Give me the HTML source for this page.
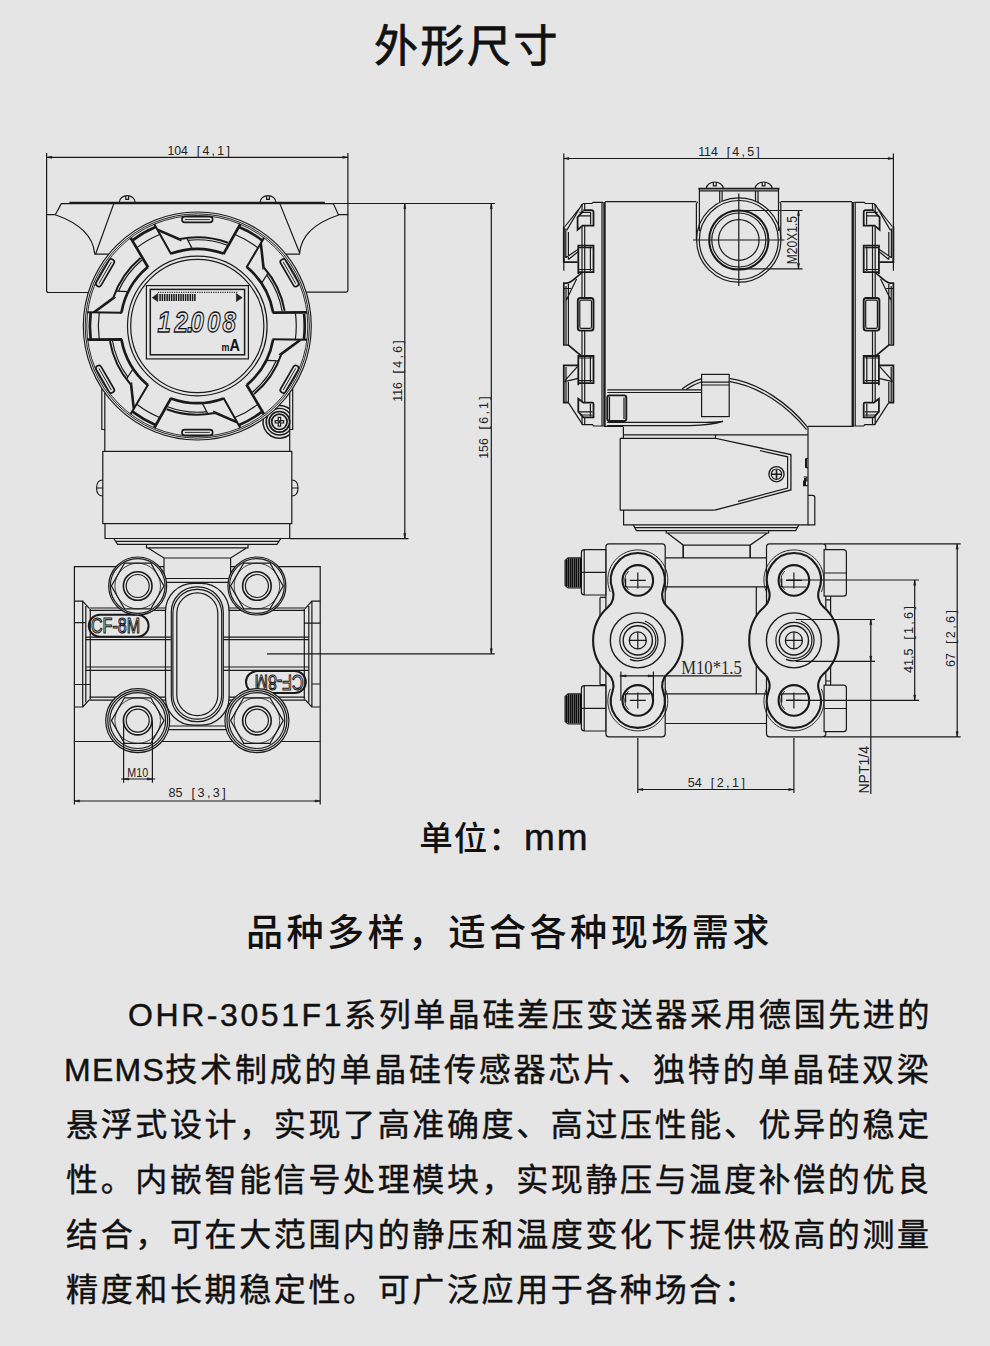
<!DOCTYPE html>
<html lang="zh-CN">
<head>
<meta charset="utf-8">
<title>外形尺寸</title>
<style>
html,body{margin:0;padding:0;}
body{width:990px;height:1346px;background:#e6e5e6;position:relative;overflow:hidden;
  font-family:"Liberation Sans","Noto Sans CJK SC",sans-serif;color:#111;}
.abs{position:absolute;white-space:nowrap;}
#title{left:0;width:934px;top:15px;text-align:center;font-size:44px;line-height:64px;letter-spacing:2.5px;font-weight:400;-webkit-text-stroke:0.8px #111;}
#unit{left:419.2px;top:815.1px;font-size:33.5px;line-height:46px;letter-spacing:1px;font-weight:500;}
#unit span{font-size:37px;letter-spacing:2.0px;font-weight:400;margin-left:1.2px;-webkit-text-stroke:0.5px #111;}
#sub{left:245.9px;top:907.3px;font-size:37.1px;line-height:52px;letter-spacing:3.45px;font-weight:500;}
#para{position:absolute;left:66px;top:988px;width:900px;font-size:32px;line-height:55px;letter-spacing:2.63px;font-weight:400;-webkit-text-stroke:0.45px #111;}
#para div{white-space:nowrap;height:55px;}
#draw{position:absolute;left:0;top:0;width:990px;height:1346px;}
#draw text{fill:#222;stroke:none;font-family:"Liberation Sans",sans-serif;font-size:12px;}
</style>
</head>
<body>
<div id="title" class="abs">外形尺寸</div>
<svg id="draw" viewBox="0 0 990 1346" width="990" height="1346" fill="none" stroke="#1a1a1a" stroke-width="1.2">
<g id="left">
<path d="M88.3,292.5 H48.6 Q46.6,292.5 46.6,290.5 V214.7 H55.3 L61.3,203.6 H333.3 L338.4,214.7 H347.9 V290 Q347.9,292.2 345.9,292.2 H306.3"/>
<path d="M55.3,214.7 C76,222 93,234 94.6,253.4 M94.2,254.1 H108.8 M113.8,203.6 L95.7,253.8"/>
<path d="M338.6,215 C318,222 301,234 299.6,253.4 M300,254.1 H285.8 M279.8,203.6 L300,253.8"/>
<path d="M69.4,202.6 H324.8" stroke-width="1.9"/>
<path d="M119.2,202.6 C119.2,198.5 123.2,195.6 127.2,195.6 C131.2,195.6 135.2,198.5 135.2,202.6 M125.8,195.8 V199.4 H128.6 V195.8"/>
<path d="M260,202.6 C260,198.5 264,195.6 268,195.6 C272,195.6 276,198.5 276,202.6 M266.6,195.8 V199.4 H269.4 V195.8"/>
<path d="M104.8,392.6 V451.4 M289.7,392.6 V451.4 M101.8,389 V429.5 H104.8 M292.7,389 V429.5 H289.7"/>
<rect x="102.8" y="451.4" width="189" height="72.2"/>
<path d="M105,523.6 V538.5 H289.7 V523.6 M113.8,538.5 L117.6,544.4 H277 L280.8,538.5 M115.6,541.4 H279"/>
<path d="M146.5,544.4 V547.9 H248 V544.4 M148,547.9 L164,558 H230.6 L246.5,547.9 M164,558 V578.5 M230.6,558 V578.5 M166,578.5 H228.6 M166,582.3 H228.6"/>
<path d="M102.8,480 C98,480 96.6,484 96.6,488 C96.6,492 98,496 102.8,496 M96.6,488 H102.8"/>
<path d="M291.8,480 C296.6,480 298,484 298,488 C298,492 296.6,496 291.8,496 M298,488 H291.8"/>
<circle cx="197.3" cy="326" r="114" fill="#e6e5e6" stroke-width="1.15"/>
<circle cx="197.3" cy="326" r="112.1" stroke-width="0.95"/>
<circle cx="197.3" cy="326" r="110.5" stroke-width="0.9"/>
<circle cx="197.3" cy="326" r="69.8" stroke-width="1.2"/>
<circle cx="197.3" cy="326" r="66.6"/>
<g transform="rotate(0 197.3 326)"><path d="M158.2,230.7 L181.4,240.9 M187.7,240.3 A86.2,86.2 0 0 1 227.2,245.2 M186.9,238.4 L192.2,248.6 M235,234.5 A99,99 0 0 1 257.8,247.7"/><path d="M154.2,224 L171.2,254.2 M156.9,229.1 L180,239.2 M179.9,239.1 A88.6,88.6 0 0 1 227.9,242.8" stroke-width="2"/><path d="M240.4,224 L223.4,254.2 M171,253.6 A77,77 0 0 1 223.6,253.6 M239.1,227 A107.5,107.5 0 0 1 262.1,240.3" stroke-width="2.7"/><rect x="182" y="216.7" width="30.6" height="5.7" rx="2.6" stroke-width="1.7"/><path d="M184.8,219.6 H209.8" stroke-width="0.9"/></g>
<g transform="rotate(60 197.3 326)"><path d="M158.2,230.7 L181.4,240.9 M187.7,240.3 A86.2,86.2 0 0 1 227.2,245.2 M186.9,238.4 L192.2,248.6 M235,234.5 A99,99 0 0 1 257.8,247.7"/><path d="M154.2,224 L171.2,254.2 M156.9,229.1 L180,239.2 M179.9,239.1 A88.6,88.6 0 0 1 227.9,242.8" stroke-width="2"/><path d="M240.4,224 L223.4,254.2 M171,253.6 A77,77 0 0 1 223.6,253.6 M239.1,227 A107.5,107.5 0 0 1 262.1,240.3" stroke-width="2.7"/><rect x="182" y="216.7" width="30.6" height="5.7" rx="2.6" stroke-width="1.7"/><path d="M184.8,219.6 H209.8" stroke-width="0.9"/></g>
<g transform="rotate(120 197.3 326)"><path d="M158.2,230.7 L181.4,240.9 M187.7,240.3 A86.2,86.2 0 0 1 227.2,245.2 M186.9,238.4 L192.2,248.6 M235,234.5 A99,99 0 0 1 257.8,247.7"/><path d="M154.2,224 L171.2,254.2 M156.9,229.1 L180,239.2 M179.9,239.1 A88.6,88.6 0 0 1 227.9,242.8" stroke-width="2"/><path d="M240.4,224 L223.4,254.2 M171,253.6 A77,77 0 0 1 223.6,253.6 M239.1,227 A107.5,107.5 0 0 1 262.1,240.3" stroke-width="2.7"/><rect x="182" y="216.7" width="30.6" height="5.7" rx="2.6" stroke-width="1.7"/><path d="M184.8,219.6 H209.8" stroke-width="0.9"/></g>
<g transform="rotate(180 197.3 326)"><path d="M158.2,230.7 L181.4,240.9 M187.7,240.3 A86.2,86.2 0 0 1 227.2,245.2 M186.9,238.4 L192.2,248.6 M235,234.5 A99,99 0 0 1 257.8,247.7"/><path d="M154.2,224 L171.2,254.2 M156.9,229.1 L180,239.2 M179.9,239.1 A88.6,88.6 0 0 1 227.9,242.8" stroke-width="2"/><path d="M240.4,224 L223.4,254.2 M171,253.6 A77,77 0 0 1 223.6,253.6 M239.1,227 A107.5,107.5 0 0 1 262.1,240.3" stroke-width="2.7"/><rect x="182" y="216.7" width="30.6" height="5.7" rx="2.6" stroke-width="1.7"/><path d="M184.8,219.6 H209.8" stroke-width="0.9"/></g>
<g transform="rotate(240 197.3 326)"><path d="M158.2,230.7 L181.4,240.9 M187.7,240.3 A86.2,86.2 0 0 1 227.2,245.2 M186.9,238.4 L192.2,248.6 M235,234.5 A99,99 0 0 1 257.8,247.7"/><path d="M154.2,224 L171.2,254.2 M156.9,229.1 L180,239.2 M179.9,239.1 A88.6,88.6 0 0 1 227.9,242.8" stroke-width="2"/><path d="M240.4,224 L223.4,254.2 M171,253.6 A77,77 0 0 1 223.6,253.6 M239.1,227 A107.5,107.5 0 0 1 262.1,240.3" stroke-width="2.7"/><rect x="182" y="216.7" width="30.6" height="5.7" rx="2.6" stroke-width="1.7"/><path d="M184.8,219.6 H209.8" stroke-width="0.9"/></g>
<g transform="rotate(300 197.3 326)"><path d="M158.2,230.7 L181.4,240.9 M187.7,240.3 A86.2,86.2 0 0 1 227.2,245.2 M186.9,238.4 L192.2,248.6 M235,234.5 A99,99 0 0 1 257.8,247.7"/><path d="M154.2,224 L171.2,254.2 M156.9,229.1 L180,239.2 M179.9,239.1 A88.6,88.6 0 0 1 227.9,242.8" stroke-width="2"/><path d="M240.4,224 L223.4,254.2 M171,253.6 A77,77 0 0 1 223.6,253.6 M239.1,227 A107.5,107.5 0 0 1 262.1,240.3" stroke-width="2.7"/><rect x="182" y="216.7" width="30.6" height="5.7" rx="2.6" stroke-width="1.7"/><path d="M184.8,219.6 H209.8" stroke-width="0.9"/></g>
</g>
<g id="left2">
<rect x="146.4" y="285.6" width="102" height="73.3"/>
<rect x="150.3" y="289.4" width="94.3" height="65.4" stroke-width="1.5"/>
<path d="M152.3,297.7 L157.8,293.6 V301.6 Z M242.2,297.7 L236.4,293.6 V301.6 Z" fill="#222" stroke-width="0.6"/>
<path d="M158,292.4 H237.5" stroke-width="1.3" stroke-dasharray="1.1 1.2"/>
<path d="M160.1,293.9 V300.9 M162.4,293.9 V300.9 M164.7,293.9 V300.9 M167.1,293.9 V300.9 M169.4,293.9 V300.9 M171.7,293.9 V300.9 M174,293.9 V300.9 M176.3,293.9 V300.9 M178.7,293.9 V300.9 M181,293.9 V300.9 M183.3,293.9 V300.9 M185.6,293.9 V300.9 M187.9,293.9 V300.9 M190.3,293.9 V300.9 M192.6,293.9 V300.9 M194.9,293.9 V300.9" stroke-width="1.5"/>
<g font-family="'Liberation Sans',sans-serif" font-style="italic" font-weight="bold">
<text transform="translate(0,332.4) scale(0.8,1)" x="196.9 218.1 233.6 238.1 258.8 278.1" y="0" style="font-size:30px;fill:none;stroke:#111;stroke-width:1.25px">12.008</text>
</g>
<text x="221.6" y="351.3" style="font-size:10.5px;font-weight:bold;fill:#111" textLength="18.4" lengthAdjust="spacingAndGlyphs">m<tspan style="font-size:17px">A</tspan></text>
<path d="M289.7,430.2 A13.3,13.3 0 0 1 267.6,415.7 M275.2,409.2 A13.3,13.3 0 0 1 289.7,413.4 M289.7,434.6 A16.4,16.4 0 0 1 263.2,419 M279.1,405.4 A16.4,16.4 0 0 1 289.7,409" stroke-width="1.5"/>
<circle cx="279.4" cy="421.8" r="10.3" fill="#e6e5e6" stroke-width="1.7"/>
<circle cx="279.4" cy="421.8" r="7.7" stroke-width="1.7"/>
<path d="M275.2,420.6 h3 v-3.2 h2.4 v3.2 h3 v2.4 h-3 v3.2 h-2.4 v-3.2 h-3 Z" stroke-width="1.2"/>
<circle cx="279.4" cy="421.8" r="1.5" fill="#222" stroke="none"/>
<path d="M164,566.6 H74.4 V741.5 H320.2 V566.6 H230.6"/>
<path d="M74.4,601.2 H82.7 V707 H74.4 M82.7,601.2 L89.5,608.6 M82.7,707 L89.5,699.6 M85.8,606 V702.5 M90.3,609 V699.5 M74.4,622.7 H85.8 M74.4,684.5 H90.3"/>
<path d="M320.2,601.2 H311.9 V707 H320.2 M311.9,601.2 L305.1,608.6 M311.9,707 L305.1,699.6 M308.8,606 V702.5 M304.3,609 V699.5 M320.2,623.1 H303.8 M320.2,684 H311.9"/>
<path d="M89.5,608 H166 M89.5,610.3 H166 M305.1,608 H228.6 M305.1,610.3 H228.6"/>
<path d="M85.8,637.2 H170.8 M85.8,639.6 H170.8 M308.8,637.2 H223.8 M308.8,639.6 H223.8"/>
<path d="M85.8,667 H170.8 M85.8,670.3 H170.8 M308.8,667 H223.8 M308.8,670.3 H223.8"/>
<path d="M89.5,697.1 H166 M89.5,700.2 H166 M305.1,697.1 H228.6 M305.1,700.2 H228.6"/>
<path d="M168,726 H226.6 M168,729.6 H226.6"/>
<rect x="165.5" y="583.3" width="63.6" height="141.9" rx="28"/>
<rect x="171.3" y="586.8" width="52" height="134.9" rx="25.4"/>
<rect x="172.9" y="589.4" width="48.8" height="129.7" rx="24"/>
<rect x="176.8" y="592.9" width="41" height="122.7" rx="20.5"/>
<g><rect x="88.8" y="614.8" width="59.8" height="22" rx="11" stroke-width="2"/><text x="91" y="633.4" textLength="49" lengthAdjust="spacingAndGlyphs" style="font-size:22.5px;fill:none;stroke:#111;stroke-width:1.15px">CF-8M</text></g>
<g transform="rotate(180 197.3 653.95)"><rect x="88.8" y="614.8" width="59.8" height="22" rx="11" stroke-width="2"/><text x="91" y="633.4" textLength="49" lengthAdjust="spacingAndGlyphs" style="font-size:22.5px;fill:none;stroke:#111;stroke-width:1.15px">CF-8M</text></g>
<circle cx="137.7" cy="586" r="29" fill="#e6e5e6"/>
<circle cx="137.7" cy="586" r="27.4"/>
<polygon points="164,586 150.8,608.8 124.5,608.8 111.4,586 124.5,563.2 150.8,563.2"/>
<circle cx="137.7" cy="586" r="22.8" stroke-width="0.8"/>
<circle cx="137.7" cy="586" r="14.3" stroke-width="1.6"/>
<circle cx="137.7" cy="586" r="11.5"/>
<circle cx="137.7" cy="720.6" r="32" fill="#e6e5e6"/>
<circle cx="137.7" cy="720.6" r="30"/>
<circle cx="137.7" cy="720.6" r="27.9"/>
<polygon points="164,720.6 150.8,743.4 124.5,743.4 111.4,720.6 124.5,697.8 150.8,697.8"/>
<circle cx="137.7" cy="720.6" r="22.8" stroke-width="0.8"/>
<circle cx="137.7" cy="720.6" r="14.3" stroke-width="1.6"/>
<circle cx="137.7" cy="720.6" r="11.5"/>
<circle cx="256.9" cy="586" r="29" fill="#e6e5e6"/>
<circle cx="256.9" cy="586" r="27.4"/>
<polygon points="283.2,586 270,608.8 243.7,608.8 230.6,586 243.7,563.2 270,563.2"/>
<circle cx="256.9" cy="586" r="22.8" stroke-width="0.8"/>
<circle cx="256.9" cy="586" r="14.3" stroke-width="1.6"/>
<circle cx="256.9" cy="586" r="11.5"/>
<circle cx="256.9" cy="720.6" r="32" fill="#e6e5e6"/>
<circle cx="256.9" cy="720.6" r="30"/>
<circle cx="256.9" cy="720.6" r="27.9"/>
<polygon points="283.2,720.6 270,743.4 243.7,743.4 230.6,720.6 243.7,697.8 270,697.8"/>
<circle cx="256.9" cy="720.6" r="22.8" stroke-width="0.8"/>
<circle cx="256.9" cy="720.6" r="14.3" stroke-width="1.6"/>
<circle cx="256.9" cy="720.6" r="11.5"/>
</g>
<g id="dimsL">
<path d="M46.6,153 V214.7 M347.9,153 V214.7 M46.6,157.3 H347.9 M333,203.5 H495 M404.8,203.5 V538.6 M289.7,538.6 H408.5 M491.3,203.5 V653.9 M267,653.9 H494.8 M123.6,720.6 V782.8 M152.4,720.6 V782.8 M121,779 H155.2 M74.4,741.5 V804.5 M320.2,741.5 V804.5 M74.4,801 H320.2"/>
<path d="M46.6,157.3 l5.2,-1 v2 Z M347.9,157.3 l-5.2,-1 v2 Z M404.8,203.5 l-1,5.2 h2 Z M404.8,538.6 l-1,-5.2 h2 Z M491.3,203.5 l-1,5.2 h2 Z M491.3,653.9 l-1,-5.2 h2 Z M123.6,779 l5.2,-1 v2 Z M152.4,779 l-5.2,-1 v2 Z M74.4,801 l5.2,-1 v2 Z M320.2,801 l-5.2,-1 v2 Z" fill="#222" stroke-width="0.6"/>
<text x="167.4" y="154.6" style="font-size:12.3px">104 <tspan dx="5.4" style="letter-spacing:2.3px">[4,1]</tspan></text>
<text transform="translate(402.2,401.8) rotate(-90)" style="font-size:12.3px">116 <tspan dx="5.4" style="letter-spacing:2.3px">[4,6]</tspan></text>
<text transform="translate(488.2,458.8) rotate(-90)" style="font-size:12.3px">156 <tspan dx="5.4" style="letter-spacing:2.3px">[6,1]</tspan></text>
<text x="168.6" y="797.2" style="font-size:12.6px">85 <tspan dx="5.5" style="letter-spacing:2.4px">[3,3]</tspan></text>
<text x="127.3" y="777.3" style="font-size:13px" textLength="20.8" lengthAdjust="spacingAndGlyphs">M10</text>
</g>
<g id="right">
<path d="M605.2,201.7 H696.4 M780.8,201.7 H852 M604.5,202 V426.7 M852.7,202 V426.7" />
<path d="M604.5,202 V426.7 M852.7,202 V426.7" stroke-width="2.3"/>
<path d="M602,202.4 V426 M855.2,202.4 V426"/>
<path d="M604.5,426.4 H623.2 M808,426.4 H852.7"/>
<g id="capL"><path d="M603,202.4 H593.2 L591.8,203.5 H583.3 L564.9,226.5 M582,204.3 L566.7,230.4"/>
<path d="M603,426 H593.5 L592.5,424.6 H582.6 L568.4,402.7"/>
<path d="M582,204 V424.6 M584.7,204 V424.6"/>
<path d="M563.8,226.5 V262.2 H577.6" stroke-width="1.8"/>
<path d="M565.8,228.5 V258 M568.4,232 V259.5 M565.6,257.8 L583,246 M568.4,259.5 L579,251"/>
<path d="M581.9,272.6 C576,277 572,282.5 567,283.2 H563.8 V345 H568.4 L581.9,356.4" stroke-width="1.7"/>
<path d="M568.4,284 V345 M566,286 V344 M576.6,279 L565.6,301.5 M563.8,288.5 H571"/>
<path d="M578.3,365.3 H563.8 V402.5 H568.4" stroke-width="1.8"/>
<path d="M566,367 V401.5 M568.4,382 V402.5 M577.6,366.3 L564.9,380.6 M564.6,381.6 L578.3,378.3"/>
<path d="M583.3,210.2 H591.5 Q593.5,210.2 593.5,212.2 V225.6 H582.6 L577.6,229.9 V217.2 L583.3,211.2" fill="#e6e5e6" stroke-width="1.8"/>
<path d="M579.5,212.4 H591 M579,215.8 H591 M590.6,211.7 V224.6"/>
<path d="M578.3,274.1 V245.6 H593.5 V272.1 H578.3" fill="#e6e5e6" stroke-width="1.8"/>
<path d="M582,245.6 V272.1 M584.7,245.6 V272.1 M590.4,246.6 V271.1 M579,247.6 H592.5 M579,269.5 H592.5"/>
<rect x="577.8" y="298" width="15.7" height="32.6" rx="2.6" fill="#e6e5e6" stroke-width="1.9"/>
<rect x="579.8" y="300.2" width="11.7" height="28.2" rx="1.5"/>
<path d="M578.3,385.2 V356 H593.5 V383.2 H578.3" fill="#e6e5e6" stroke-width="1.8"/>
<path d="M582,356 V383.2 M584.7,356 V383.2 M590.4,357 V382.2 M579,358 H592.5 M579,380.6 H592.5"/>
<path d="M578.3,398.8 L583.3,402.7 H592.5 Q593.5,402.7 593.5,404.2 V417.4 H583.3 L578.3,411.7 Z" fill="#e6e5e6" stroke-width="1.8"/>
<path d="M579,411.8 H592.5 M580.5,415 H592.5 M590.4,403.8 V416.4"/></g>
<g transform="translate(1457.2,0) scale(-1,1)"><path d="M603,202.4 H593.2 L591.8,203.5 H583.3 L564.9,226.5 M582,204.3 L566.7,230.4"/>
<path d="M603,426 H593.5 L592.5,424.6 H582.6 L568.4,402.7"/>
<path d="M582,204 V424.6 M584.7,204 V424.6"/>
<path d="M563.8,226.5 V262.2 H577.6" stroke-width="1.8"/>
<path d="M565.8,228.5 V258 M568.4,232 V259.5 M565.6,257.8 L583,246 M568.4,259.5 L579,251"/>
<path d="M581.9,272.6 C576,277 572,282.5 567,283.2 H563.8 V345 H568.4 L581.9,356.4" stroke-width="1.7"/>
<path d="M568.4,284 V345 M566,286 V344 M576.6,279 L565.6,301.5 M563.8,288.5 H571"/>
<path d="M578.3,365.3 H563.8 V402.5 H568.4" stroke-width="1.8"/>
<path d="M566,367 V401.5 M568.4,382 V402.5 M577.6,366.3 L564.9,380.6 M564.6,381.6 L578.3,378.3"/>
<path d="M583.3,210.2 H591.5 Q593.5,210.2 593.5,212.2 V225.6 H582.6 L577.6,229.9 V217.2 L583.3,211.2" fill="#e6e5e6" stroke-width="1.8"/>
<path d="M579.5,212.4 H591 M579,215.8 H591 M590.6,211.7 V224.6"/>
<path d="M578.3,274.1 V245.6 H593.5 V272.1 H578.3" fill="#e6e5e6" stroke-width="1.8"/>
<path d="M582,245.6 V272.1 M584.7,245.6 V272.1 M590.4,246.6 V271.1 M579,247.6 H592.5 M579,269.5 H592.5"/>
<rect x="577.8" y="298" width="15.7" height="32.6" rx="2.6" fill="#e6e5e6" stroke-width="1.9"/>
<rect x="579.8" y="300.2" width="11.7" height="28.2" rx="1.5"/>
<path d="M578.3,385.2 V356 H593.5 V383.2 H578.3" fill="#e6e5e6" stroke-width="1.8"/>
<path d="M582,356 V383.2 M584.7,356 V383.2 M590.4,357 V382.2 M579,358 H592.5 M579,380.6 H592.5"/>
<path d="M578.3,398.8 L583.3,402.7 H592.5 Q593.5,402.7 593.5,404.2 V417.4 H583.3 L578.3,411.7 Z" fill="#e6e5e6" stroke-width="1.8"/>
<path d="M579,411.8 H592.5 M580.5,415 H592.5 M590.4,403.8 V416.4"/></g>
<path d="M696.4,240 V203.8 L697.6,201.7 M780.8,240 V203.8 L779.8,201.7"/>
<path d="M699.4,231 V188.5 H778.5 V231" />
<path d="M698.4,188.6 H779.4" stroke-width="1.6"/>
<path d="M699.4,190.9 H778.5 M719.7,190.9 V202.6 M722.1,190.9 V201 M755.5,190.9 V201 M758,190.9 V202.6"/>
<circle cx="738.8" cy="240" r="42.2"/>
<circle cx="738.8" cy="240" r="39.5"/>
<circle cx="738.8" cy="240" r="29.6" stroke-width="2"/>
<circle cx="738.8" cy="240" r="27"/>
<circle cx="738.8" cy="240" r="20.3"/>
<path d="M693,240 H784.5 M738.8,193.5 V286"/>
<path d="M706.4,188.4 C706.4,184.6 710.8,182 714.8,182 C718.8,182 723.2,184.6 723.2,188.4 M713.4,182.2 V185.8 H716.2 V182.2"/>
<path d="M755.2,188.4 C755.2,184.6 759.6,182 763.6,182 C767.6,182 772,184.6 772,188.4 M762.2,182.2 V185.8 H765 V182.2"/>
<path d="M607.3,389.8 H701.6 M607.3,392.5 H701.6 M607.3,422.3 H700 M607.3,425.6 H690 C705,425.2 716,423.6 723,421.4 C716,422.2 708,422.6 700,422.3"/>
<rect x="607.3" y="395.4" width="19" height="25.6" rx="2.2" stroke-width="1.9"/>
<path d="M609.5,396.5 V420 M624,397.5 V419"/>
<path d="M682,388.9 C690,383 697,380 701.6,378.6 M729.2,378.4 C760,383 789,404 808,427.6 M686,389.6 C692,385.6 698,383 701.6,381.8 M729.2,381.4 C760,386.6 787,406 806.6,429.6"/>
<rect x="701.6" y="374.4" width="27.6" height="42.2" fill="#e6e5e6"/>
<path d="M701.6,382.2 H729.2 M701.6,385 H729.2"/>
<path d="M623.4,426.7 V438.3 M623.4,434.8 H808 M620.2,438.3 H715.5 M620.2,438.3 V510.2 H714.7 M623.6,510.2 V524.9 H808 V427.6"/>
<path d="M715.5,434.8 V438.3 L790.9,454.5 V490 L714.7,510.2" stroke-width="1.3"/>
<path d="M760,450.6 L787.6,456.8 V488 L738,501.4"/>
<circle cx="776.5" cy="474.2" r="7.6" stroke-width="1.3"/><circle cx="776.5" cy="474.2" r="5.2"/>
<path d="M772,474.2 H781 M776.5,469.7 V478.7" stroke-width="1.6"/>
<path d="M808,495.4 H812.6 Q814.8,495.4 814.8,497.6 V524.9 H808 M806,458.5 V467.7 M806,458.5 H808 M806,467.7 H808 M803.6,477 H806.8 V481 H803.6 V485.6 H807.6" />
<path d="M806,458.5 V467.7 M805,478 V485" stroke-width="2"/>
<path d="M633.3,524.9 L636.4,530.7 H795.7 L798.8,524.9 M634.6,527.6 H797.6 M666.2,530.7 V533 H768.6 V530.7 M667.4,533 L683.2,545.1 H750.2 L767.4,533 M683.2,545.1 V558 M750.2,545.1 V558"/>
</g>
<g id="right2">
<path d="M665,557.9 H767 M665,586.9 H767 M665,693.8 H767 M665,723.5 H767 M756.3,586.9 V693.8 M683.2,545.1 V557.9 M750.2,545.1 V557.9"/>
<path d="M600,597.4 V684.5 M600,597.4 H606 M600,684.5 H606 M830.6,596.2 V685.2 M824,599.8 H830.6 M824,681 H830.6"/>
<rect x="605.9" y="543.9" width="59.3" height="192.9" rx="3" fill="#e6e5e6"/>
<path d="M610.3,591.9 A30,30 0 1 1 665.3,591.9 M610.3,688.9 A30,30 0 1 0 665.3,688.9" stroke-width="0.9"/>
<path d="M612.5,589.4 A27,27 0 1 1 663.1,589.4 A16,16 0 0 0 667.5,607 A44.7,44.7 0 0 1 667.5,673.8 A16,16 0 0 0 663.1,691.4 A27,27 0 1 1 612.5,691.4 A16,16 0 0 0 608.1,673.8 A44.7,44.7 0 0 1 608.1,607 A16,16 0 0 0 612.5,589.4 Z" stroke-width="2.1" fill="#e6e5e6"/>
<circle cx="637.8" cy="580.4" r="15.3" stroke-width="2.1"/>
<path d="M628.5,589.7 A13.2,13.2 0 0 1 628.5,571.1" stroke-width="0.9"/>
<path d="M629.8,580.4 H645.8 M637.8,572.4 V588.4 M625.6,587 H650 M625.6,587 V578.4"/>
<circle cx="637.8" cy="700.4" r="15.3" stroke-width="2.1"/>
<path d="M628.5,709.7 A13.2,13.2 0 0 1 628.5,691.1" stroke-width="0.9"/>
<path d="M629.8,700.4 H645.8 M637.8,692.4 V708.4 M625.6,693.8 H650 M625.6,693.8 V702.4"/>
<circle cx="637.8" cy="640.4" r="27.5" stroke-width="1.4"/>
<circle cx="637.8" cy="640.4" r="18"/>
<circle cx="637.8" cy="640.4" r="14.6" stroke-width="1.4"/>
<circle cx="637.8" cy="640.4" r="8.5" stroke-width="1.3"/>
<path d="M644.8,621 A20.6,20.6 0 0 1 629.8,659.4"/>
<path d="M629.3,640.4 H646.3 M637.8,631.9 V648.9"/>
<rect x="766.5" y="543.9" width="59.3" height="192.9" rx="3" fill="#e6e5e6"/>
<path d="M766.4,591.9 A30,30 0 1 1 821.4,591.9 M766.4,688.9 A30,30 0 1 0 821.4,688.9" stroke-width="0.9"/>
<path d="M768.6,589.4 A27,27 0 1 1 819.2,589.4 A16,16 0 0 0 823.6,607 A44.7,44.7 0 0 1 823.6,673.8 A16,16 0 0 0 819.2,691.4 A27,27 0 1 1 768.6,691.4 A16,16 0 0 0 764.2,673.8 A44.7,44.7 0 0 1 764.2,607 A16,16 0 0 0 768.6,589.4 Z" stroke-width="2.1" fill="#e6e5e6"/>
<circle cx="793.9" cy="580.4" r="15.3" stroke-width="2.1"/>
<path d="M784.6,589.7 A13.2,13.2 0 0 1 784.6,571.1" stroke-width="0.9"/>
<path d="M785.9,580.4 H801.9 M793.9,572.4 V588.4 M781.7,587 H806.1 M781.7,587 V578.4"/>
<circle cx="793.9" cy="700.4" r="15.3" stroke-width="2.1"/>
<path d="M784.6,709.7 A13.2,13.2 0 0 1 784.6,691.1" stroke-width="0.9"/>
<path d="M785.9,700.4 H801.9 M793.9,692.4 V708.4 M781.7,693.8 H806.1 M781.7,693.8 V702.4"/>
<circle cx="793.9" cy="640.4" r="27.5" stroke-width="1.4"/>
<circle cx="793.9" cy="640.4" r="18"/>
<circle cx="793.9" cy="640.4" r="14.6" stroke-width="1.4"/>
<circle cx="793.9" cy="640.4" r="8.5" stroke-width="1.3"/>
<path d="M800.9,621 A20.6,20.6 0 0 1 785.9,659.4"/>
<path d="M785.4,640.4 H802.4 M793.9,631.9 V648.9"/>
<path d="M605.8,549.7 H584.4 Q581.4,549.7 581.4,552.7 V592 Q581.4,595 584.4,595 H605.8 Z M581.4,572.4 H605.8 M584.2,549.7 V595" fill="#e6e5e6"/>
<path d="M581.4,557.9 H568 L565.1,560.5 V585.4 L568,588 H581.4"/>
<path d="M566.4,559.9 V586 M568.4,558.3 V587.6 M570.5,558.3 V587.6 M572.5,558.3 V587.6 M574.6,558.3 V587.6 M576.6,558.3 V587.6 M578.7,558.3 V587.6 M580.8,558.3 V587.6" stroke-width="1.7" stroke="#0c0c0c"/>
<path d="M605.8,685.7 H584.4 Q581.4,685.7 581.4,688.7 V728 Q581.4,731 584.4,731 H605.8 Z M581.4,708.4 H605.8 M584.2,685.7 V731" fill="#e6e5e6"/>
<path d="M581.4,693.9 H568 L565.1,696.5 V721.4 L568,724 H581.4"/>
<path d="M566.4,695.9 V722 M568.4,694.3 V723.6 M570.5,694.3 V723.6 M572.5,694.3 V723.6 M574.6,694.3 V723.6 M576.6,694.3 V723.6 M578.7,694.3 V723.6 M580.8,694.3 V723.6" stroke-width="1.7" stroke="#0c0c0c"/>
<path d="M824.1,549.7 H843.4 Q846.4,549.7 846.4,552.7 V593.2 Q846.4,596.2 843.4,596.2 H824.1 Z M824.1,573 H846.4" fill="#e6e5e6"/>
<path d="M824.1,685.2 H843.4 Q846.4,685.2 846.4,688.2 V728.7 Q846.4,731.7 843.4,731.7 H824.1 Z M824.1,708.5 H846.4" fill="#e6e5e6"/>
<path d="M563.8,153.5 V270.7 M893.4,153.5 V270.7 M563.8,158.5 H893.4 M738.8,210.5 H802.5 M738.8,268.8 H802.5 M798.5,210.5 V268.8 M786.5,580 H919 M786.5,700.3 H919 M914.7,580 V700.3 M824.1,543.9 H960.7 M824.1,736.8 H960.7 M957.2,543.9 V736.8 M795.8,619.5 H875 M795.8,661.3 H875 M870.8,619.5 V794 M637.8,738 V793 M793.9,738 V793 M637.8,789.5 H793.9 M619.7,675.9 H741.7 M620.9,671.5 V700.8 M653.4,671.5 V700.8"/>
<path d="M563.8,158.5 l5.2,-1 v2 Z M893.4,158.5 l-5.2,-1 v2 Z M798.5,210.5 l-1,5.2 h2 Z M798.5,268.8 l-1,-5.2 h2 Z M914.7,580 l-1,5.2 h2 Z M914.7,700.3 l-1,-5.2 h2 Z M957.2,543.9 l-1,5.2 h2 Z M957.2,736.8 l-1,-5.2 h2 Z M870.8,619.5 l-1,5.2 h2 Z M870.8,661.3 l-1,-5.2 h2 Z M637.8,789.5 l5.2,-1 v2 Z M793.9,789.5 l-5.2,-1 v2 Z M620.9,675.9 l5.2,-1 v2 Z M653.4,675.9 l-5.2,-1 v2 Z" fill="#222" stroke-width="0.6"/>
<text x="698.2" y="155.6" style="font-size:12.3px">114 <tspan dx="5.4" style="letter-spacing:2.3px">[4,5]</tspan></text>
<text x="687.8" y="786.8" style="font-size:12.6px">54 <tspan dx="5.5" style="letter-spacing:2.4px">[2,1]</tspan></text>
<text transform="translate(913,672.9) rotate(-90)" style="font-size:12.6px">41,5 <tspan dx="5.1" style="letter-spacing:2.3px">[1,6]</tspan></text>
<text transform="translate(954.6,667.1) rotate(-90)" style="font-size:12.6px">67 <tspan dx="5.5" style="letter-spacing:2.4px">[2,6]</tspan></text>
<text transform="translate(796.8,264.3) rotate(-90)" style="font-size:14px" textLength="48.4" lengthAdjust="spacingAndGlyphs">M20X1.5</text>
<text transform="translate(869.4,793.6) rotate(-90)" style="font-size:14px" textLength="47.6" lengthAdjust="spacingAndGlyphs">NPT1/4</text>
<text x="681.3" y="674" style="font-size:18.5px;font-family:'Liberation Serif',serif;fill:#2a2a2a" textLength="60.4" lengthAdjust="spacingAndGlyphs">M10*1.5</text>
</g>
</svg>
<div id="unit" class="abs">单位：<span>mm</span></div>
<div id="sub" class="abs">品种多样，适合各种现场需求</div>
<div id="para">
<div style="padding-left:62px;letter-spacing:2.58px">OHR-3051F1系列单晶硅差压变送器采用德国先进的</div>
<div style="margin-left:-2px;letter-spacing:2.84px"><span style="letter-spacing:1.3px">MEMS</span>技术制成的单晶硅传感器芯片、独特的单晶硅双梁</div>
<div>悬浮式设计，实现了高准确度、高过压性能、优异的稳定</div>
<div>性。内嵌智能信号处理模块，实现静压与温度补偿的优良</div>
<div>结合，可在大范围内的静压和温度变化下提供极高的测量</div>
<div>精度和长期稳定性。可广泛应用于各种场合：</div>
</div>
</body>
</html>
